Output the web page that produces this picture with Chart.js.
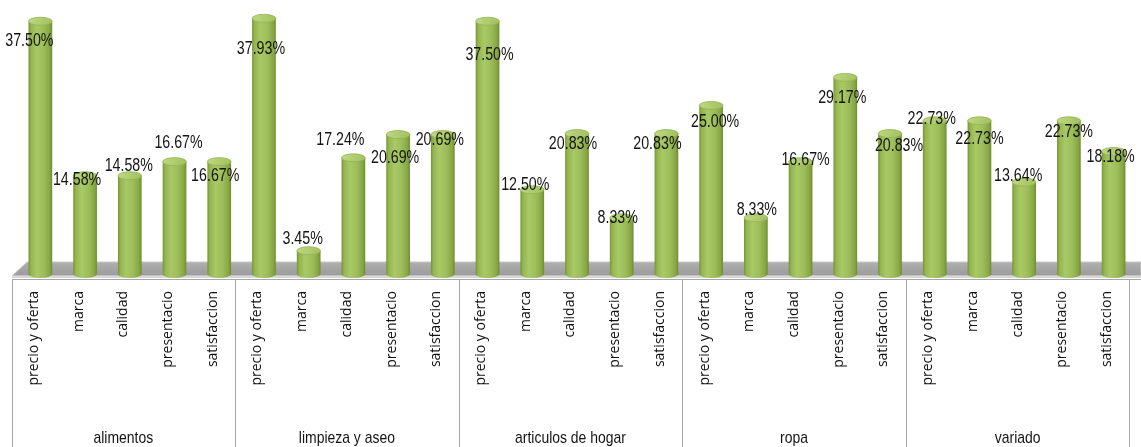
<!DOCTYPE html>
<html>
<head>
<meta charset="utf-8">
<script src="https://cdn.jsdelivr.net/npm/chart.js@4.4.0/dist/chart.umd.min.js"></script>
<style>
html,body{margin:0;padding:0;background:#fff;}
#wrap{width:1141px;height:447px;position:relative;}
</style>
</head>
<body>
<div id="wrap"><canvas id="myChart"></canvas></div>
<script>
var groups=["alimentos","limpieza y aseo","articulos de hogar","ropa","variado"];
var factors=["precio y oferta","marca","calidad","presentacio","satisfaccion"];
var alimentos=[37.50,14.58,14.58,16.67,16.67];
var limpieza=[37.93,3.45,17.24,20.69,20.69];
var hogar=[37.50,12.50,20.83,8.33,20.83];
var ropa=[25.00,8.33,16.67,29.17,20.83];
var variado=[22.73,22.73,13.64,22.73,18.18];

var labels=[];
groups.forEach(function(){ labels=labels.concat(factors); });
var values=[].concat(alimentos,limpieza,hogar,ropa,variado);

// where each value label sits relative to the top of its cylinder
var labelShift=[
	[-11,19],[-8,3],[-1,-11],[4,-20],[-4,13],
	[-3,30],[-6,-13],[-13,-19],[-3,22],[-3,4],
	[2,33],[-7,-6],[-4,9],[-4,-1],[-9,9],
	[4,16],[1,-9],[5,-3],[-3,20],[9,11],
	[-3,-3],[0,17],[-6,-7],[0,10],[-3,5]
];

var depth=6.5;

// condensed text: squeeze a normal sans horizontally
function narrowText(ctx,text,x,y,size,squeeze){
	ctx.save();
	ctx.translate(x,y);
	ctx.scale(squeeze,1);
	ctx.font=size+'px "Liberation Sans",Arial,sans-serif';
	ctx.textAlign="center";
	ctx.textBaseline="middle";
	ctx.fillText(text,0,0);
	ctx.restore();
}

var cylinders={
	id:"cylinders",
	beforeDatasetsDraw:function(chart){
		var ctx=chart.ctx;
		ctx.save();
		// floor
		ctx.beginPath();
		ctx.moveTo(12,276);
		ctx.lineTo(27,262);
		ctx.lineTo(1141,262);
		ctx.lineTo(1141,276);
		ctx.closePath();
		var fg=ctx.createLinearGradient(0,262,0,276);
		fg.addColorStop(0,"#b0b0b0");
		fg.addColorStop(1,"#9a9a9a");
		ctx.fillStyle=fg;
		ctx.fill();
		ctx.strokeStyle="#c8c8c8";
		ctx.lineWidth=1;
		ctx.stroke();
		ctx.fillStyle="#d6d6d6";
		ctx.fillRect(12,275.5,1129,2.5);
		ctx.restore();
	},
	afterDatasetsDraw:function(chart){
		var ctx=chart.ctx;
		var meta=chart.getDatasetMeta(0);
		ctx.save();
		meta.data.forEach(function(bar){
			var x=bar.x+depth, rx=bar.width/2, ry=4;
			var top=bar.y, base=bar.base;
			var g=ctx.createLinearGradient(x-rx,0,x+rx,0);
			g.addColorStop(0,"#74942f");
			g.addColorStop(0.1,"#93b44e");
			g.addColorStop(0.35,"#a9c967");
			g.addColorStop(0.65,"#9dbd5a");
			g.addColorStop(0.9,"#86a644");
			g.addColorStop(1,"#6c8c2c");
			ctx.beginPath();
			ctx.moveTo(x-rx,top);
			ctx.lineTo(x-rx,base);
			ctx.ellipse(x,base,rx,ry,0,Math.PI,0,true);
			ctx.lineTo(x+rx,top);
			ctx.closePath();
			ctx.fillStyle=g;
			ctx.fill();
			var tg=ctx.createLinearGradient(x-rx,top-ry,x+rx,top+ry);
			tg.addColorStop(0,"#bfd985");
			tg.addColorStop(1,"#a0c05c");
			ctx.beginPath();
			ctx.ellipse(x,top,rx,ry,0,0,Math.PI*2);
			ctx.fillStyle=tg;
			ctx.fill();
			ctx.strokeStyle="#93b44e";
			ctx.lineWidth=0.8;
			ctx.stroke();
		});
		// value labels
		ctx.fillStyle="#141414";
		meta.data.forEach(function(bar,i){
			var s=labelShift[i];
			narrowText(ctx,values[i].toFixed(2)+"%",bar.x+depth+s[0],bar.y+s[1]+1,18,0.79);
		});
		ctx.restore();
	},
	afterDraw:function(chart){
		var ctx=chart.ctx;
		var xs=chart.scales.x;
		var slot=(xs.right-xs.left)/labels.length;
		ctx.save();
		ctx.strokeStyle="#a6a6a6";
		ctx.lineWidth=1;
		ctx.beginPath();
		ctx.moveTo(12,279.5);
		ctx.lineTo(1141,279.5);
		for(var g=0;g<=groups.length;g++){
			var gx=Math.round(xs.left+g*factors.length*slot)+0.5;
			ctx.moveTo(gx,279);
			ctx.lineTo(gx,447);
		}
		ctx.stroke();
		ctx.fillStyle="#141414";
		groups.forEach(function(name,g){
			var cx=xs.left+(g+0.5)*factors.length*slot;
			narrowText(ctx,name,cx,438,17,0.82);
		});
		ctx.restore();
	}
};

var myChart=document.getElementById("myChart").getContext("2d");

var chart=new Chart(myChart,{
	type:"bar",
	data:{
		labels:labels,
		datasets:[{
			label:"porcentaje",
			data:values,
			backgroundColor:"rgba(0,0,0,0)",
			borderWidth:0,
			barPercentage:0.53,
			categoryPercentage:1
		}]
	},
	options:{
		responsive:true,
		maintainAspectRatio:false,
		animation:false,
		layout:{padding:{left:11.5,right:5,top:0,bottom:0}},
		plugins:{legend:{display:false},tooltip:{enabled:false}},
		scales:{
			x:{
				grid:{display:false,drawTicks:false},
				border:{display:false},
				ticks:{
					autoSkip:false,
					minRotation:90,
					maxRotation:90,
					padding:17,
					color:"#111",
					font:{family:'"Open Sans",sans-serif',size:14}
				},
				afterFit:function(s){ s.height=173; }
			},
			y:{display:false,min:0,max:40.65}
		}
	},
	plugins:[cylinders]
});
</script>
</body>
</html>
